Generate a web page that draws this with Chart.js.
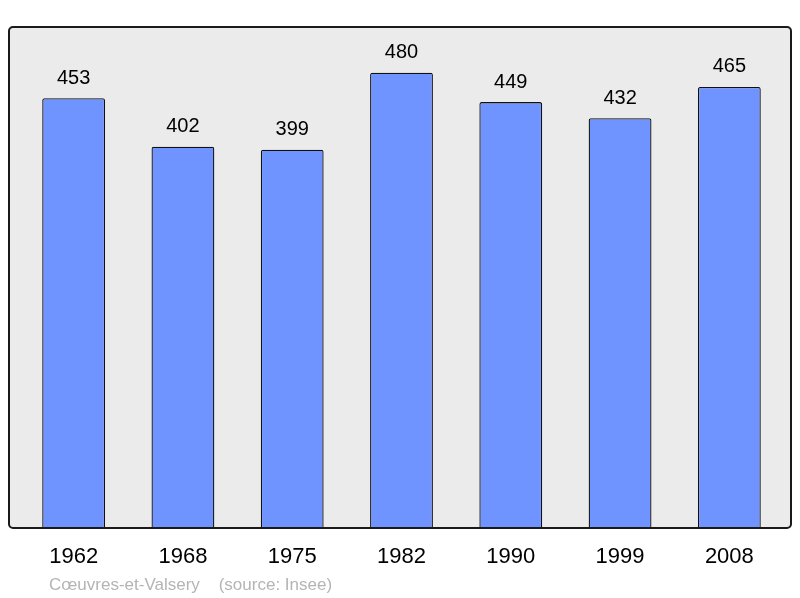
<!DOCTYPE html>
<html>
<head>
<meta charset="utf-8">
<script src="https://cdn.jsdelivr.net/npm/chart.js@4"></script>
<style>
  html, body { margin: 0; padding: 0; background: #ffffff; }
  #wrap { width: 800px; height: 598px; position: relative; }
</style>
</head>
<body>
<div id="wrap"><canvas id="popChart" width="800" height="598"></canvas></div>
<script>
const years = ['1962', '1968', '1975', '1982', '1990', '1999', '2008'];
const population = [453, 402, 399, 480, 449, 432, 465];
const sourceText = 'Cœuvres-et-Valsery    (source: Insee)';

// background frame, value labels, year labels and source line
const decorPlugin = {
    id: 'decor',
    beforeDraw(chart) {
        const ctx = chart.ctx;
        ctx.save();
        ctx.beginPath();
        ctx.roundRect(9, 27, 782, 501, 4);
        ctx.fillStyle = '#ebebeb';
        ctx.fill();
        ctx.restore();
    },
    afterDatasetsDraw(chart) {
        const ctx = chart.ctx;
        const meta = chart.getDatasetMeta(0);
        const xScale = chart.scales.x;
        ctx.save();
        // frame border
        ctx.beginPath();
        ctx.roundRect(9, 27, 782, 501, 4);
        ctx.lineWidth = 2;
        ctx.strokeStyle = '#1a1a1a';
        ctx.stroke();

        ctx.fillStyle = '#000';
        ctx.textAlign = 'center';
        ctx.textBaseline = 'middle';
        ctx.font = '20px "Liberation Sans", Arial, sans-serif';
        meta.data.forEach((bar, i) => {
            ctx.fillText(String(population[i]), bar.x, bar.y - 20);
        });

        ctx.font = '22px "Liberation Sans", Arial, sans-serif';
        years.forEach((y, i) => {
            ctx.fillText(y, xScale.getPixelForValue(i), 557);
        });

        ctx.textAlign = 'left';
        ctx.fillStyle = '#b4b4b4';
        ctx.font = '17px "Liberation Sans", Arial, sans-serif';
        ctx.fillText(sourceText, 49, 585);
        ctx.restore();
    }
};

new Chart(document.getElementById('popChart'), {
    type: 'bar',
    data: {
        labels: years,
        datasets: [{
            data: population,
            backgroundColor: '#7094ff',
            borderColor: '#111',
            borderWidth: 1.3,
            borderSkipped: 'bottom',
            borderRadius: 2,
            barPercentage: 0.575,
            categoryPercentage: 1
        }]
    },
    options: {
        responsive: false,
        animation: false,
        layout: { padding: { left: 19, right: 16, top: 27, bottom: 69 } },
        plugins: { legend: { display: false }, tooltip: { enabled: false } },
        scales: {
            x: { display: false },
            y: { display: false, min: 0, max: 528 }
        }
    },
    plugins: [decorPlugin]
});
</script>
</body>
</html>
